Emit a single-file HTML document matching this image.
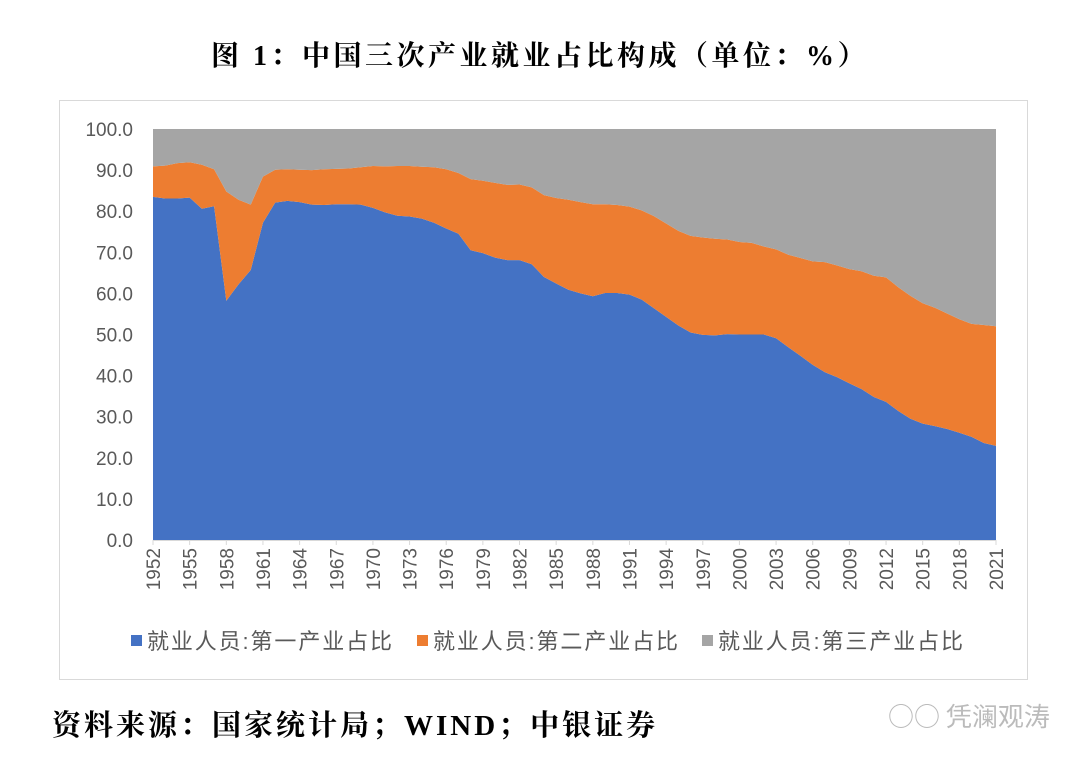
<!DOCTYPE html>
<html><head><meta charset="utf-8">
<style>
body{margin:0;background:#fff;width:1080px;height:761px;overflow:hidden;position:relative;font-family:"Liberation Sans","Noto Sans CJK SC",sans-serif}
#title{position:absolute;left:0;width:1080px;top:34px;text-align:center;font-family:"Liberation Serif","Noto Serif CJK SC",serif;font-weight:bold;font-size:28px;letter-spacing:3.5px;color:#000}
#source{position:absolute;left:52px;top:703px;font-family:"Liberation Serif","Noto Serif CJK SC",serif;font-weight:bold;font-size:29px;letter-spacing:3px;color:#000}
#wm{position:absolute;left:888px;top:697px;font-size:26px;color:#bbb;font-family:"Noto Sans CJK SC",sans-serif}
svg{position:absolute;left:0;top:0}
</style></head><body>
<div id="title">图 1：中国三次产业就业占比构成（单位：%）</div>
<svg id="chart" width="1080" height="761"></svg>
<div id="source">资料来源：国家统计局；WIND；中银证券</div>
<div id="wm">&#x25CB;&#x25CB; 凭澜观涛</div>
<script>
const years=[];for(let y=1952;y<=2021;y++)years.push(y);
const primary=[83.5,83.1,83.1,83.3,80.6,81.2,58.2,62.2,65.7,77.2,82.1,82.5,82.2,81.6,81.5,81.7,81.7,81.6,80.8,79.7,78.9,78.7,78.2,77.2,75.8,74.5,70.5,69.8,68.7,68.1,68.1,67.1,64.0,62.4,60.9,60.0,59.3,60.1,60.1,59.7,58.5,56.4,54.3,52.2,50.5,49.9,49.8,50.1,50.0,50.0,50.0,49.1,46.9,44.8,42.6,40.8,39.6,38.1,36.7,34.8,33.6,31.4,29.5,28.3,27.7,27.0,26.1,25.1,23.6,22.9];
const secondary=[7.4,8.0,8.6,8.6,10.7,9.0,26.6,20.6,15.9,11.2,8.0,7.7,7.9,8.4,8.7,8.6,8.7,9.1,10.2,11.2,12.1,12.3,12.6,13.5,14.4,14.8,17.3,17.6,18.2,18.3,18.4,18.7,19.9,20.8,21.9,22.2,22.4,21.6,21.4,21.4,21.7,22.4,22.7,23.0,23.5,23.7,23.5,23.0,22.5,22.3,21.4,21.6,22.5,23.8,25.2,26.8,27.2,27.8,28.7,29.5,30.3,30.1,29.9,29.3,28.8,28.1,27.6,27.5,28.7,29.1];
const tertiary=primary.map((p,i)=>+(100-p-secondary[i]).toFixed(1));
const yTicks=[0,10,20,30,40,50,60,70,80,90,100];
const seriesNames=["就业人员:第一产业占比","就业人员:第二产业占比","就业人员:第三产业占比"];
const colors=["#4472C4","#ED7D31","#A5A5A5"];
const X0=153,X1=996,Y0=540,Y1=129;
const xs=i=>X0+(X1-X0)*i/(years.length-1);
const ys=v=>Y0-(Y0-Y1)*v/100;
const svg=document.getElementById('chart');const NS="http://www.w3.org/2000/svg";
function mk(t,a){const e=document.createElementNS(NS,t);for(const k in a)e.setAttribute(k,a[k]);svg.appendChild(e);return e;}
const frame=mk('rect',{x:59.5,y:100.5,width:968,height:579,fill:'none',stroke:'#d9d9d9'});


const series=[primary,secondary,tertiary];
let base=years.map(()=>0);
series.forEach((s,k)=>{
  const top=base.map((b,i)=>b+s[i]);
  let d='M'+years.map((_,i)=>xs(i)+','+ys(top[i])).join('L');
  for(let i=years.length-1;i>=0;i--)d+='L'+xs(i)+','+ys(base[i]);
  const p=mk('path',{d:d+'Z',fill:colors[k]});
  
  
  base=top;
});
yTicks.forEach(v=>{
  const t=mk('text',{x:133,y:ys(v)+7,'text-anchor':'end','font-size':19,fill:'#595959'});
  t.textContent=v.toFixed(1);
  
  
});
mk('line',{x1:X0,x2:X1,y1:Y0+0.5,y2:Y0+0.5,stroke:'#d9d9d9'});
years.forEach((y,i)=>{
  if((y-1952)%3)return;
  const x=xs(i);
  mk('line',{x1:x,x2:x,y1:Y0,y2:Y0+5,stroke:'#d9d9d9'});
  const t=mk('text',{x:0,y:0,'text-anchor':'end','font-size':19,fill:'#595959',transform:`translate(${x+7},${Y0+8}) rotate(-90)`});
  t.textContent=y;
  
  
});
const lx=[131,417,702];
seriesNames.forEach((n,k)=>{
  const r=mk('rect',{x:lx[k],y:635,width:11,height:11,fill:colors[k]});
  
  
  const t=mk('text',{x:lx[k]+16,y:649,'font-size':22,fill:'#595959',textLength:245,lengthAdjust:'spacing'});
  t.textContent=n;
  
  
});
</script>
</body></html>
